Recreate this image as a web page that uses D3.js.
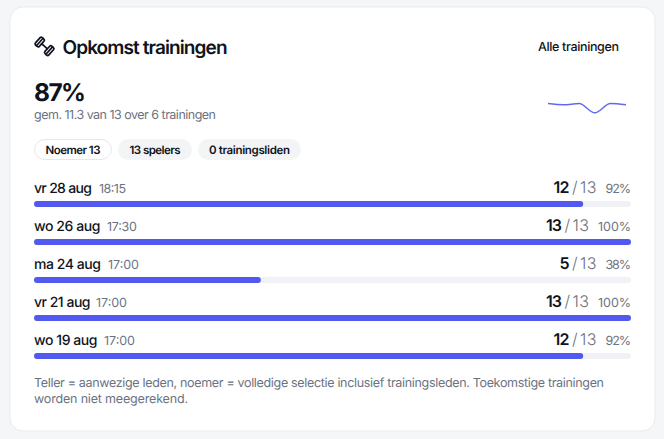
<!DOCTYPE html>
<html><head><meta charset="utf-8">
<script src="https://cdn.jsdelivr.net/npm/d3@7"></script>
<style>html,body{margin:0;padding:0;background:#f5f6f8}svg{display:block}text{font-family:"Inter","Noto Sans",sans-serif;text-rendering:geometricPrecision}</style>
</head><body><svg id="c" width="664" height="439"></svg>
<script>
const dates=["vr 28 aug","wo 26 aug","ma 24 aug","vr 21 aug","wo 19 aug"];
const times=["18:15","17:30","17:00","17:00","17:00"];
const present=[12,13,5,13,12];
const total=[13,13,13,13,13];
const pct=[92,100,38,100,92];
const spark=[100,92,100,38,100,92];
const chips=["Noemer 13","13 spelers","0 trainingsliden"];
const noteLines=["Teller = aanwezige leden, noemer = volledige selectie inclusief trainingsleden. Toekomstige trainingen","worden niet meegerekend."];

const svg=d3.select("#c");
const ink="#0f1320",grey="#6b7280",accent="#5159ee",track="#f1f2f5";
function T(x,y,s,size,weight,fill,w,anchor){
  const t=svg.append("text").attr("x",x).attr("y",y).text(s).attr("font-size",size).attr("font-weight",weight).attr("fill",fill).attr("text-anchor",anchor||"start");
  if(w){t.attr("textLength",w).attr("lengthAdjust","spacing");}
  return t;
}
svg.append("rect").attr("x",10).attr("y",7).attr("width",645).attr("height",424).attr("rx",13).attr("fill","#fff").attr("stroke","#e9ebf0").attr("stroke-width",1);

// dumbbell icon: two plates on a short bar, along the diagonal
const ic=svg.append("g").attr("transform","translate(44.5,46.3) rotate(42)").attr("fill","none").attr("stroke",ink).attr("stroke-width",1.7).attr("stroke-linejoin","round").attr("stroke-linecap","round");
[-1,1].forEach(s=>{
  ic.append("rect").attr("x",s<0?-9:3.8).attr("y",-5).attr("width",5.2).attr("height",10).attr("rx",1.5);
  ic.append("path").attr("d",`M${s*6.4} -5V5`);
});
ic.append("path").attr("d","M-3.5 0H3.5");

T(62.5,54,"Opkomst trainingen",19,600,ink,165);
T(538,51,"Alle trainingen",12.5,500,ink,81);
T(34,101,"87%",24.5,700,ink,52);
T(34,119,"gem. 11.3 van 13 over 6 trainingen",12.5,400,grey,182);

const chipX=[34,118,198],chipW=[78,74,103],textW=[55,51,81];
chips.forEach((c,i)=>{
  svg.append("rect").attr("x",chipX[i]+(i?0:.5)).attr("y",i?139:139.5).attr("width",chipW[i]-(i?0:1)).attr("height",i?21:20).attr("rx",10.5)
    .attr("fill",i?"#f3f4f6":"#fff").attr("stroke",i?"none":"#e5e7eb");
  T(chipX[i]+chipW[i]/2,154,c,11.5,600,ink,textW[i],"middle");
});

const sx=d3.scaleLinear().domain([0,spark.length-1]).range([548,626]);
const sy=d3.scaleLinear().domain([38,100]).range([112.8,103.6]);
svg.append("path").attr("d",d3.line().x((d,i)=>sx(i)).y(d=>sy(d)).curve(d3.curveMonotoneX)(spark))
  .attr("fill","none").attr("stroke",accent).attr("stroke-width",1.5).attr("opacity",.9);

const x=d3.scaleLinear().domain([0,100]).range([34,631]);
const y=d3.scaleBand().domain(d3.range(dates.length)).range([201,391]);
const dateWs=[58,66.5,67,56.5,63.5];
const timeXs=[99,107,108,96,104];
const timeWs=[27,30,31,31,31];
dates.forEach((d,i)=>{
  const top=y(i),base=top-8;
  svg.append("rect").attr("x",x(0)).attr("y",top).attr("width",x(100)-x(0)).attr("height",6).attr("rx",3).attr("fill",track);
  svg.append("rect").attr("x",x(0)).attr("y",top).attr("width",x(pct[i])-x(0)).attr("height",6).attr("rx",3).attr("fill",accent);
  T(34,base,d,14,500,ink,dateWs[i]);
  T(timeXs[i],base,times[i],12.5,400,grey,timeWs[i]);
  const pEnd=631, pLeft=pct[i]===100?598:605.5;
  T(pEnd,base,pct[i]+"%",12.5,400,grey,pEnd-pLeft,"end");
  T(pLeft-9,base,total[i],16,300,grey,16.5,"end");
  T(pLeft-28,base,"/",16,300,grey,null,"end");
  T(pLeft-36,base,present[i],16,600,ink,present[i]>9?16:null,"end");
});

noteLines.forEach((l,i)=>T(34,387+i*16,l,12.5,400,grey,i?154:570));
</script></body></html>
